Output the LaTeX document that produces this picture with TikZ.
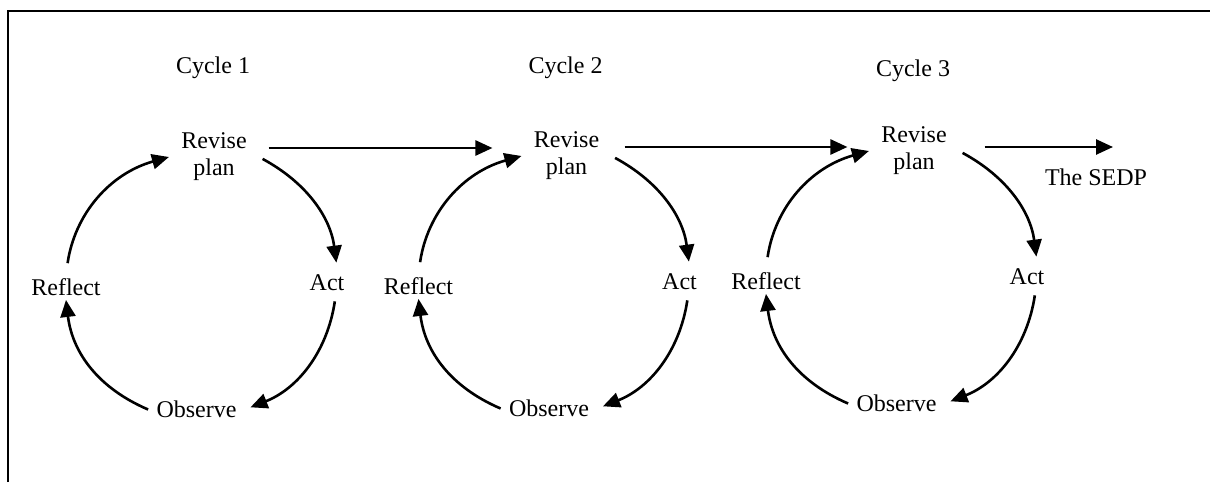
\documentclass[tikz,border=0pt]{standalone}
\usepackage{fontspec}
\setmainfont{Liberation Serif}
\usetikzlibrary{arrows.meta}
\tikzset{
  lbl/.style={font=\fontsize{12}{13.5}\selectfont,inner sep=0pt},
  revbox/.style={lbl,align=center,inner xsep=6pt},
  sidebox/.style={lbl,inner ysep=2pt},
  obsbox/.style={lbl,inner xsep=4pt},
  cyc/.style={-{Triangle[length=8.5pt,width=7.5pt]},line width=1.3pt},
}

\begin{document}
\begin{tikzpicture}[x=0.5pt,y=-0.5pt]
  \useasboundingbox (0,0) rectangle (1210,482);
  \draw[line width=1pt] (8,482) -- (8,11) -- (1210,11);
  % one loop per cycle: plan -> act -> observe -> reflect
  \foreach \n/\x/\y/\ly in {1/214/157/68,2/566.5/156/68,3/914/151/71}{
    \node[lbl] (cyc\n) at (\x-1,\ly) {Cycle \n};
    \node[revbox] (rev\n) at (\x,\y) {Revise\\plan};
    \node[sidebox] (act\n) at (\x+113,\y+126) {Act};
    \node[obsbox] (obs\n) at (\x-17.5,\y+252.5) {Observe};
    \node[sidebox] (refl\n) at (\x-148,\y+130) {Reflect};
    \draw[cyc,shorten <=5.5pt] (refl\n.north) to[bend left=33] (rev\n.west);
    \draw[cyc,shorten <=2pt,shorten >=4pt] (rev\n.east) to[bend left=27] (act\n.50);
    \draw[cyc,shorten <=3pt,shorten >=3pt] (act\n.-55) to[bend left=30] (obs\n.east);
    \draw[cyc] (obs\n.west) to[bend left=30] (refl\n.south);
  }
  % from one cycle to the next
  \node[lbl] (sedp) at (1096,177) {The SEDP};
  \coordinate (sedpend) at (1113,147);
  \draw[cyc,shorten <=4.75pt,shorten >=14.5pt] ([yshift=4.5pt]rev1.east) -- ([yshift=4pt]rev2.west);
  \draw[cyc,shorten <=6.5pt,shorten >=10.75pt] ([yshift=4.5pt]rev2.east) -- ([yshift=2pt]rev3.west);
  \draw[cyc,shorten <=12.75pt] ([yshift=2pt]rev3.east) -- (sedpend);
\end{tikzpicture}
\end{document}
